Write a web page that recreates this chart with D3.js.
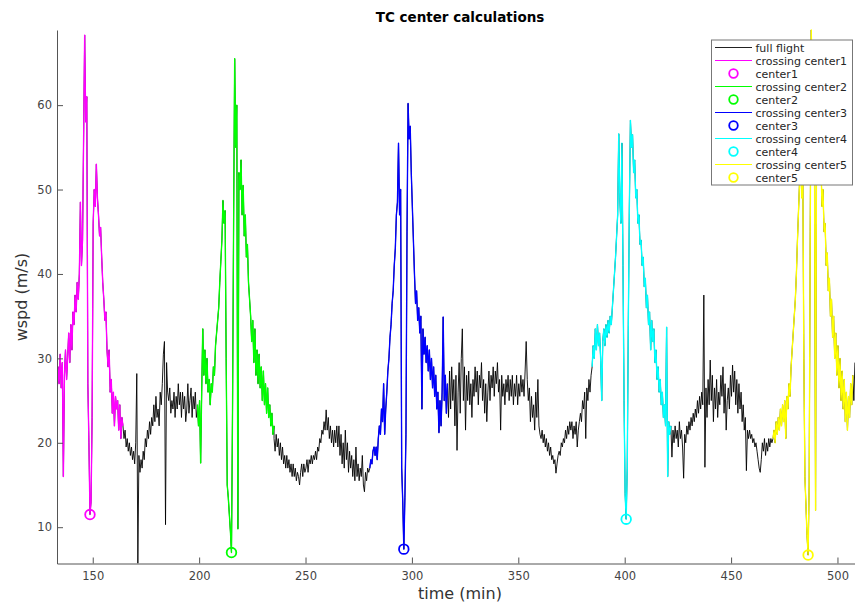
<!DOCTYPE html>
<html><head><meta charset="utf-8">
<script src="https://cdn.jsdelivr.net/npm/d3@7"></script>
<style>body{margin:0;background:#fff;} svg{display:block;font-family:"DejaVu Sans",sans-serif;}</style>
</head><body><svg id="chart" width="855" height="603"></svg>
<script>
// ---- data ----
const sampleStep = 0.5; // minutes between samples
const crossingNames = ["crossing center1","crossing center2","crossing center3","crossing center4","crossing center5"];
const centerNames = ["center1","center2","center3","center4","center5"];
const crossingColors = ["#ff00ff","#00ff00","#0000ff","#00ffff","#ffff00"];
const crossingStart = [133.2, 199.2, 280.2, 384.7, 469.7];
const crossing1 = [25.5,29,27,30.5,26.5,29.5,16,28,31,27.5,30,33,29.5,34,31,35.5,34,37.5,35.5,39,37,40,48.5,41,44,56,68.3,58,61,27,20,11.5,13,23,46,50,48,53,49,47,44.5,45.5,42,39,37,34.5,35.5,31,29,31,26,27.5,23.5,26,22,25.5,24,25,21.5,24.5,20.5,23,22];
const crossing2 = [24.5,22,25,17.6,26,33.5,28,31,27,30,26,27.5,24.5,27,26,29,28,31.5,33,34.5,36,39,41.5,44,48.7,46,47.5,30,15,13.5,11.5,9.5,7.0,24,46,65.5,55,60,9.8,52,50,53.5,47,50.5,44.5,47,42,43.5,39,37,35,32,34.5,29.5,33.5,28,31,27,30.5,26.5,29,25,28.5,24.5,27,23.5,26.5,23,24.5,22,23.5,21,22];
const crossing3 = [17,18,17.5,19,19.5,18.5,19.5,18,20.5,22,21,24,22.5,27,21,24,26,28.5,30,32.5,34,36.5,38,41,43,47,48.5,55.5,47,50,17,13,7.4,13.5,21,45,60.2,56,57.5,52,48,44,40,36.5,38,34.5,36,33,35,24,33.5,30.5,32.5,29.5,31.5,28.5,31,27.5,30,26.5,29,25.5,28,24,26,21.2,25,22,26,34.9,25,28,23.5,27];
const crossing4 = [29,31.5,30,33.5,31,34,31.5,33,30,25,32,33.5,31.5,34,32.5,34.5,33,35,34,36,38,40,42,44.5,47,56.6,49,46,55.5,41,25,14,10.95,17,34,48,58.2,55,56.5,52,53.5,49,50,46,47,43.5,44,41,42,38.5,39.5,36,37.5,34,35.5,31,34.5,32,33.5,29.5,31,27.5,29,26,27.5,24.5,26,23,24.5,22,33.7,16,22.5,21,22];
const crossing5 = [20.5,21.5,20,22.5,21,23,21.5,24,22,24.5,22.5,25,20.5,25.5,24,27,25.5,29,31,33,35,37,40,44,47.5,51,54,49,53,30,16,12.5,9,6.7,15,45,68.9,58,64,55,12,60,55,58,52,54,48,50,45,46,41,42.5,38,39.5,35,37,32.5,35,30,33,28,31.5,26.5,30,25,28.5,24,27.5,22.5,26,21.5,25.5,23,27,24.5,28];
const flightStart = [164.2, 235.2, 316.7, 421.7, 507.2];
const flightGap1 = [22,20.5,21.5,19.5,20.5,19,20,18.5,19.5,18,19,17.5,20,28.2,5.7,18.5,16.5,18,17,19,18,20.5,19.5,21.5,20.5,22.5,21,23,22,24.5,22.5,25.5,23,24,22,26,24.5,27,30.5,32,10.3,29.5,26,25,26.5,23.5,25,24,26,23,25.5,24,27,24.5,26,23,26,24,25.5,22.5,24,27,23.5,25,26.5,23,25.5,24,26,23,24];
const flightGap2 = [20.5,19,21,19.5,20.5,18.5,20,18,19.5,17.5,18.5,17,18.5,17,18,16.5,17.5,16,17.5,16,17,15.5,16.5,16,15,16.5,17.5,16,17.5,16.5,17,18,16.5,18,17.5,18.5,17.5,18.5,18,19,18,19.5,19,20.5,20,21.5,21,22.5,21.5,23.9,21.5,23,20.5,22,20,21.5,19.5,21.5,20,22,19.5,22,18.5,21,17.5,20,17,21.5,18,20,16.5,19,17,18.5,16,18,15.5,19.5,16,17.5,15.5,17,16,18.5,15,14.2,16.5,15.5,17,16.5,17];
const flightGap3 = [27,23,28.5,24,29,25,27.5,22,28,19.1,26,29.5,23.5,30,33.5,25,29,21.5,28,25,28.5,24.5,27,23,27.5,25.5,29,26,28.5,24.5,28,26.5,29.5,25,27.5,23.5,27,22.5,26,28.5,25,28,26.5,29,25.5,28.5,27,29.5,26,27.5,21.5,28,25.5,27,24.5,27.5,26,28,25,27.5,25.5,28,24.5,27,25.5,28,24.5,27,25.5,28,26,27.5,25.5,28.5,32,27.5,25,26.5,22.5,25.5,23,24.5,21.5,26,23,27.5,22,21,20.5,21.5,20,21,19.5,20.5,19,20,18.5,19.5,18,18.5,17.5,18,16.4,17.5,18.5,19,18.5,20,19.5,20.5,20,21.5,20.5,22,21,22.5,21.5,22.5,20.5,22,21,22.5,19.5,21.5,22.5,23.5,22.5,25,24,26,20.5,26.5,25,27.5,26,28,29];
const flightGap4 = [22,18.3,21.5,20,22,20.5,21.5,19.5,22.5,20.5,21.5,19.5,15.8,21,20,22,21,22.5,21.5,23,22,23.5,22.5,24,23,25,23.5,25.5,24,26,24.5,37.5,17.1,26.5,23,27.5,24.5,29.8,25,28,22.5,26.5,24,27.5,23,26,24.5,28,25.5,29,23.5,27,21.5,25,26.5,24,28,25.5,29.2,26,28.5,24.5,27.5,23.5,27,24,26,22.5,24.5,21.5,23,16.7,21.5,20.5,21.5,20.5,21,20,20.5,19.5,20,19,18,17,16.5,18,20,19,20.5,18.5,20,19,20.5,19.5,20.5,20,20.5];
const flightGap5 = [28,25,29.5];
const centerTime = [148.7, 215.2, 296.2, 400.7, 486.2];
const centerWspd = [11.5, 7.0, 7.4, 10.95, 6.7];
const xTicks = [150,200,250,300,350,400,450,500];
const yTicks = [10,20,30,40,50,60];
const xDomain = [133.2, 512];
const yDomain = [5.7, 68.9];

// ---- build series ----
const toPoints = (start, vals) => vals.map((v, i) => ({t: start + i * sampleStep, v}));
const crossingVals = [crossing1, crossing2, crossing3, crossing4, crossing5];
const gapVals = [flightGap1, flightGap2, flightGap3, flightGap4, flightGap5];
const crossings = crossingVals.map((vals, k) => toPoints(crossingStart[k], vals));
const gaps = gapVals.map((vals, k) => toPoints(flightStart[k], vals));
const fullFlight = [];
for (let k = 0; k < 5; k++) { fullFlight.push(...crossings[k], ...gaps[k]); }

// ---- layout ----
const svg = d3.select("#chart");
const L = 57, R = 863, T = 30, B = 563.5;
const x = d3.scaleLinear().domain(xDomain).range([L, R]);
const y = d3.scaleLinear().domain(yDomain).range([B, T]);

svg.append("defs").append("clipPath").attr("id","plotclip")
  .append("rect").attr("x", L).attr("y", T - 1).attr("width", R - L).attr("height", B - T + 1);

const line = d3.line().x(d => x(d.t)).y(d => y(d.v));
const plot = svg.append("g").attr("clip-path","url(#plotclip)");
plot.append("path").datum(fullFlight).attr("d", line)
  .attr("fill","none").attr("stroke","#000").attr("stroke-width",0.9).attr("stroke-linejoin","round");
crossings.forEach((pts, k) => {
  plot.append("path").datum(pts).attr("d", line)
    .attr("fill","none").attr("stroke", crossingColors[k]).attr("stroke-width",1.35).attr("stroke-linejoin","round");
});
centerTime.forEach((t, k) => {
  plot.append("circle").attr("cx", x(t)).attr("cy", y(centerWspd[k])).attr("r", 4.8)
    .attr("fill","none").attr("stroke", crossingColors[k]).attr("stroke-width",1.8);
});

// ---- axes ----
const axisColor = "#555", labelColor = "#444";
const gx = svg.append("g").attr("transform",`translate(0,${B})`)
  .call(d3.axisBottom(x).tickValues(xTicks).tickSizeInner(-6).tickSizeOuter(0).tickPadding(8).tickFormat(d3.format("d")));
const gy = svg.append("g").attr("transform",`translate(${L},0)`)
  .call(d3.axisLeft(y).tickValues(yTicks).tickSizeInner(-6).tickSizeOuter(0).tickPadding(5).tickFormat(d3.format("d")));
[gx, gy].forEach(g => {
  g.select(".domain").attr("stroke", axisColor).attr("stroke-width", 1);
  g.selectAll(".tick line").attr("stroke", axisColor);
  g.selectAll(".tick text").attr("fill", labelColor).style("font-size","11.5px").style("font-family","DejaVu Sans");
});

svg.append("text").attr("x", 460).attr("y", 22).attr("text-anchor","middle")
  .style("font-size","13.5px").style("font-weight","bold").attr("fill","#000").text("TC center calculations");
svg.append("text").attr("x", 460).attr("y", 599).attr("text-anchor","middle")
  .style("font-size","16px").attr("fill","#333").text("time (min)");
svg.append("text").attr("transform","translate(27,297) rotate(-90)").attr("text-anchor","middle")
  .style("font-size","16px").attr("fill","#333").text("wspd (m/s)");

// ---- legend ----
const lg = svg.append("g");
lg.append("rect").attr("x", 711.5).attr("y", 40).attr("width", 141).attr("height", 145)
  .attr("fill","#fff").attr("stroke","#777").attr("stroke-width",1);
const entries = [{name:"full flight", color:"#222", type:"line"}];
crossingNames.forEach((n, k) => {
  entries.push({name: n, color: crossingColors[k], type:"line"});
  entries.push({name: centerNames[k], color: crossingColors[k], type:"marker"});
});
entries.forEach((e, i) => {
  const cy = 47.5 + 13 * i;
  if (e.type === "line") {
    lg.append("line").attr("x1", 715).attr("x2", 752).attr("y1", cy).attr("y2", cy)
      .attr("stroke", e.color).attr("stroke-width", 1);
  } else {
    lg.append("circle").attr("cx", 733.5).attr("cy", cy).attr("r", 4.3)
      .attr("fill","none").attr("stroke", e.color).attr("stroke-width", 1.8);
  }
  lg.append("text").attr("x", 755.5).attr("y", cy + 4).style("font-size","11px")
    .attr("fill","#262626").text(e.name);
});
</script></body></html>
